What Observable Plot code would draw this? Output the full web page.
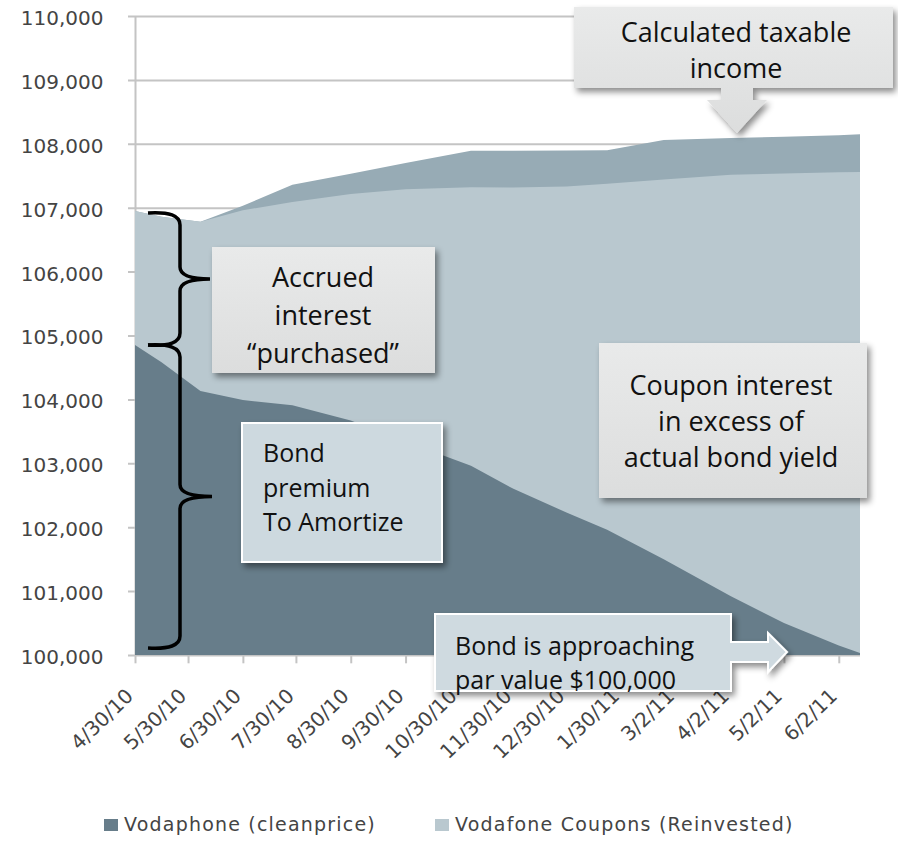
<!DOCTYPE html>
<html><head><meta charset="utf-8">
<script src="https://cdn.jsdelivr.net/npm/d3@7"></script>
<script src="https://cdn.jsdelivr.net/npm/@observablehq/plot@0.6"></script>
<style>
body{margin:0;background:#fff;}
#chart{width:898px;}
#chart svg{display:block;}
#legend{position:relative;width:898px;height:53px;font-family:"DejaVu Sans";font-size:19px;letter-spacing:1.2px;color:#444;}
.sw{position:absolute;width:14px;height:12px;top:29px}
.lt{position:absolute;top:23px;line-height:22px;white-space:nowrap}
</style></head><body>
<div id="chart"></div>
<div id="legend"></div>
<script>
// ---- data ----
const dates = ["2010-04-30","2010-05-15","2010-06-06","2010-06-30","2010-07-28","2010-08-30","2010-09-30","2010-11-06","2010-11-30","2010-12-30","2011-01-22","2011-02-23","2011-04-02","2011-05-02","2011-06-02","2011-06-14"];
const cleanPrice = [104850,104580,104130,103990,103910,103670,103340,102960,102600,102230,101960,101500,100920,100500,100150,100030];
const withCoupons = [106950,106860,106780,106960,107090,107215,107290,107320,107315,107330,107375,107440,107515,107535,107555,107560];
const taxableIncome = [106950,106860,106780,107030,107360,107530,107700,107890,107890,107895,107900,108060,108090,108110,108135,108150];
const tickDates = ["2010-04-30","2010-05-30","2010-06-30","2010-07-30","2010-08-30","2010-09-30","2010-10-30","2010-11-30","2010-12-30","2011-01-30","2011-03-02","2011-04-02","2011-05-02","2011-06-02"];
const yTicks = [100000,101000,102000,103000,104000,105000,106000,107000,108000,109000,110000];
const seriesNames = ["Vodaphone (cleanprice)", "Vodafone Coupons (Reinvested)"];

const BASE = 100000;
const parse = d3.utcParse("%Y-%m-%d");
const fmtDate = d3.utcFormat("%-m/%-d/%y");
const fmtNum = d3.format(",");
const rows = dates.map((d, i) => ({date: parse(d), clean: cleanPrice[i], coupons: withCoupons[i], taxable: taxableIncome[i]}));
const ticks = tickDates.map(parse);

const C_DARK = "#677d8a", C_LIGHT = "#b9c8cf", C_MID = "#97abb5", C_GRID = "#c4c4c4";

const chart = Plot.plot({
  width: 898, height: 790,
  marginLeft: 135, marginRight: 38, marginTop: 16, marginBottom: 135,
  style: {background: "transparent", overflow: "visible"},
  x: {type: "utc", domain: [rows[0].date, rows[rows.length - 1].date], axis: null},
  y: {domain: [100000, 110000], axis: null},
  marks: [
    Plot.ruleY(yTicks, {y: d => d, stroke: C_GRID, strokeWidth: 2, insetLeft: -7}),
    Plot.ruleX([rows[0].date], {x: d => d, y1: 100000, y2: 110000, stroke: C_GRID, strokeWidth: 2}),
    Plot.areaY(rows, {x: "date", y1: () => BASE, y2: "taxable", fill: C_MID}),
    Plot.areaY(rows, {x: "date", y1: () => BASE, y2: "coupons", fill: C_LIGHT}),
    Plot.areaY(rows, {x: "date", y1: () => BASE, y2: "clean", fill: C_DARK}),
    Plot.ruleX(ticks, {x: d => d, y1: 100000, y2: 99870, stroke: C_GRID, strokeWidth: 2}),
    Plot.text(yTicks, {y: d => d, text: d => fmtNum(d), frameAnchor: "left", textAnchor: "end", dx: -32, dy: 2,
      fontSize: 20, fontFamily: "DejaVu Sans", fill: "#444", ariaLabel: "ylabels"}),
    Plot.text(ticks, {x: d => d, text: d => fmtDate(d), frameAnchor: "bottom", textAnchor: "end", rotate: -44,
      dx: -1, dy: 42, fontSize: 20, fontFamily: "DejaVu Sans", fill: "#444", ariaLabel: "xlabels"})
  ]
});
document.getElementById("chart").appendChild(chart);

const svg = d3.select(chart);
svg.selectAll('g[aria-label="ylabels"] text').style("letter-spacing", "0.8px");
svg.selectAll('g[aria-label="xlabels"] text').style("letter-spacing", "2.2px");

const xs = chart.scale("x"), ys = chart.scale("y");
const defs = svg.append("defs");
const f = defs.append("filter").attr("id", "sh").attr("x", "-10%").attr("y", "-10%").attr("width", "130%").attr("height", "140%");
f.append("feDropShadow").attr("dx", 3).attr("dy", 4).attr("stdDeviation", 3).attr("flood-color", "#000").attr("flood-opacity", 0.45);
const gr = defs.append("linearGradient").attr("id", "gbox").attr("x1", 0).attr("x2", 0).attr("y1", 0).attr("y2", 1);
gr.append("stop").attr("offset", "0%").attr("stop-color", "#e9eaea");
gr.append("stop").attr("offset", "100%").attr("stop-color", "#dcdddd");

const ann = svg.append("g").attr("font-family", "'Open Sans'").attr("fill", "#111");

function lines(g, arr, x, y0, lh, size, anchor) {
  arr.forEach((t, i) => g.append("text").attr("x", x).attr("y", y0 + i * lh).attr("font-size", size)
    .attr("text-anchor", anchor).attr("fill", "#111").text(t));
}

// braces anchored to first data point
const x0 = xs.apply(rows[0].date);
const yTop = ys.apply(rows[0].coupons) + 2, yMidB = ys.apply(rows[0].clean), yBot = ys.apply(BASE) - 7;
function brace(t, b, tipX) {
  const sx = x0 + 45, ax = x0 + 13, m = (t + b) / 2;
  return `M${ax},${t} Q${sx},${t - 2} ${sx},${t + 12} V${m - 12} Q${sx},${m} ${tipX},${m} Q${sx},${m} ${sx},${m + 12} V${b - 12} Q${sx},${b + 2} ${ax},${b}`;
}
ann.append("path").attr("d", brace(yTop, yMidB, x0 + 75)).attr("fill", "none").attr("stroke", "#000").attr("stroke-width", 3.5);
ann.append("path").attr("d", brace(yMidB, yBot, x0 + 77)).attr("fill", "none").attr("stroke", "#000").attr("stroke-width", 3.5);

// Calculated taxable income callout
ann.append("path").attr("d", "M574,7 H893 V88 H753 V100 H767 L737,133 L707,100 H721 V88 H574 Z")
  .attr("fill", "url(#gbox)").attr("filter", "url(#sh)");
lines(ann, ["Calculated taxable", "income"], 736, 42, 36, 27, "middle");

// Accrued interest
ann.append("rect").attr("x", 212).attr("y", 247).attr("width", 223).attr("height", 126)
  .attr("fill", "url(#gbox)").attr("filter", "url(#sh)");
lines(ann, ["Accrued", "interest", "\u201Cpurchased\u201D"], 323, 287, 38, 27, "middle");

// Coupon interest
ann.append("rect").attr("x", 599).attr("y", 343).attr("width", 268).attr("height", 155)
  .attr("fill", "url(#gbox)").attr("filter", "url(#sh)");
lines(ann, ["Coupon interest", "in excess of", "actual bond yield"], 731, 395, 36, 27, "middle");

// Bond premium
ann.append("rect").attr("x", 242).attr("y", 423).attr("width", 200).attr("height", 139)
  .attr("fill", "#cdd9df").attr("stroke", "#fff").attr("stroke-width", 2).attr("filter", "url(#sh)");
lines(ann, ["Bond", "premium", "To Amortize"], 263, 462, 34.5, 25, "start");

// Bond approaching par
ann.append("path").attr("d", "M435,614 H731 V642 H768 V633 L787,652 L768,672 V662 H731 V691 H435 Z")
  .attr("fill", "#cfdae0").attr("stroke", "#fff").attr("stroke-width", 2).attr("filter", "url(#sh)");
lines(ann, ["Bond is approaching", "par value $100,000"], 455, 655, 34, 25, "start");

// legend
const lg = document.getElementById("legend");
const items = [{name: seriesNames[0], color: C_DARK, sx: 104, tx: 124}, {name: seriesNames[1], color: C_LIGHT, sx: 435, tx: 455}];
items.forEach(it => {
  const s = document.createElement("div"); s.className = "sw"; s.style.left = it.sx + "px"; s.style.background = it.color; lg.appendChild(s);
  const t = document.createElement("div"); t.className = "lt"; t.style.left = it.tx + "px"; t.textContent = it.name; lg.appendChild(t);
});
</script>
</body></html>
